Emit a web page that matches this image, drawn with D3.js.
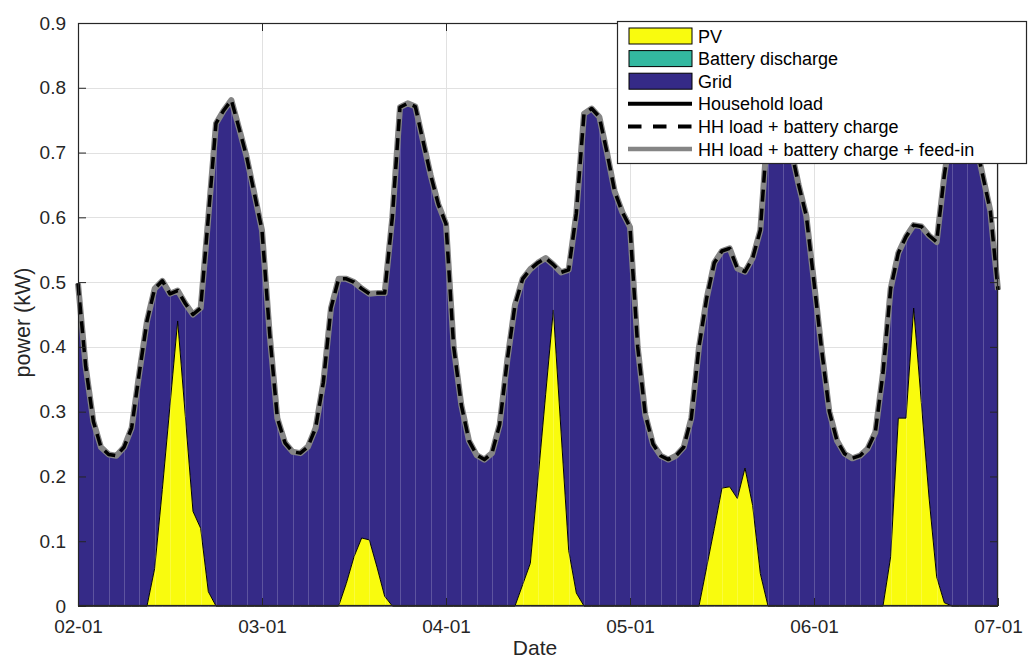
<!DOCTYPE html>
<html>
<head>
<meta charset="utf-8">
<script src="https://cdn.jsdelivr.net/npm/d3@7"></script>
<style>
  html, body { margin: 0; padding: 0; background: #fff; }
  svg { display: block; font-family: "Liberation Sans", Arial, Helvetica, sans-serif; }
</style>
</head>
<body>
<svg id="chart" width="1028" height="661"></svg>
<script>
// Hourly time index over five days (hour 0 = 02-01 00:00, hour 120 = 07-01 00:00)
const hours = d3.range(0, 121);

// Household load (kW), one row per day
const householdLoad = [
  // 02-01
  0.498, 0.370, 0.285, 0.245, 0.234, 0.232, 0.245, 0.275, 0.360, 0.440, 0.490, 0.502,
  0.482, 0.487, 0.467, 0.450, 0.460, 0.600, 0.745, 0.765, 0.781, 0.738, 0.693, 0.637,
  // 03-01
  0.580, 0.420, 0.290, 0.252, 0.238, 0.236, 0.246, 0.275, 0.345, 0.460, 0.505, 0.505,
  0.500, 0.490, 0.482, 0.483, 0.483, 0.600, 0.770, 0.776, 0.771, 0.718, 0.665, 0.620,
  // 04-01
  0.590, 0.400, 0.310, 0.255, 0.233, 0.226, 0.236, 0.280, 0.380, 0.465, 0.505, 0.520,
  0.530, 0.537, 0.527, 0.515, 0.519, 0.606, 0.760, 0.768, 0.755, 0.700, 0.640, 0.608,
  // 05-01
  0.585, 0.400, 0.295, 0.250, 0.232, 0.226, 0.232, 0.245, 0.290, 0.400, 0.475, 0.530,
  0.548, 0.552, 0.521, 0.516, 0.537, 0.580, 0.745, 0.780, 0.770, 0.705, 0.650, 0.602,
  // 06-01
  0.500, 0.395, 0.300, 0.255, 0.235, 0.228, 0.232, 0.243, 0.268, 0.360, 0.490, 0.545,
  0.570, 0.588, 0.586, 0.572, 0.562, 0.665, 0.745, 0.775, 0.765, 0.720, 0.665, 0.610,
  // 07-01 00:00
  0.488
];

// PV generation (kW)
const pvGeneration = [
  0, 0, 0, 0, 0, 0, 0, 0, 0, 0, 0.058, 0.180,
  0.310, 0.440, 0.293, 0.146, 0.120, 0.022, 0, 0, 0, 0, 0, 0,
  0, 0, 0, 0, 0, 0, 0, 0, 0, 0, 0, 0.035,
  0.076, 0.105, 0.102, 0.060, 0.015, 0, 0, 0, 0, 0, 0, 0,
  0, 0, 0, 0, 0, 0, 0, 0, 0, 0, 0.033, 0.066,
  0.196, 0.327, 0.457, 0.270, 0.086, 0.020, 0, 0, 0, 0, 0, 0,
  0, 0, 0, 0, 0, 0, 0, 0, 0, 0, 0.060, 0.120,
  0.182, 0.184, 0.166, 0.213, 0.155, 0.050, 0, 0, 0, 0, 0, 0,
  0, 0, 0, 0, 0, 0, 0, 0, 0, 0, 0.076, 0.290,
  0.290, 0.460, 0.314, 0.168, 0.045, 0.005, 0, 0, 0, 0, 0, 0,
  0
];

// Battery discharge, battery charge and feed-in (kW): all zero in this period
const batteryDischarge = [
  0,0,0,0,0,0,0,0,0,0,0,0, 0,0,0,0,0,0,0,0,0,0,0,0,
  0,0,0,0,0,0,0,0,0,0,0,0, 0,0,0,0,0,0,0,0,0,0,0,0,
  0,0,0,0,0,0,0,0,0,0,0,0, 0,0,0,0,0,0,0,0,0,0,0,0,
  0,0,0,0,0,0,0,0,0,0,0,0, 0,0,0,0,0,0,0,0,0,0,0,0,
  0,0,0,0,0,0,0,0,0,0,0,0, 0,0,0,0,0,0,0,0,0,0,0,0,
  0
];
const batteryCharge = [
  0,0,0,0,0,0,0,0,0,0,0,0, 0,0,0,0,0,0,0,0,0,0,0,0,
  0,0,0,0,0,0,0,0,0,0,0,0, 0,0,0,0,0,0,0,0,0,0,0,0,
  0,0,0,0,0,0,0,0,0,0,0,0, 0,0,0,0,0,0,0,0,0,0,0,0,
  0,0,0,0,0,0,0,0,0,0,0,0, 0,0,0,0,0,0,0,0,0,0,0,0,
  0,0,0,0,0,0,0,0,0,0,0,0, 0,0,0,0,0,0,0,0,0,0,0,0,
  0
];
const feedIn = [
  0,0,0,0,0,0,0,0,0,0,0,0, 0,0,0,0,0,0,0,0,0,0,0,0,
  0,0,0,0,0,0,0,0,0,0,0,0, 0,0,0,0,0,0,0,0,0,0,0,0,
  0,0,0,0,0,0,0,0,0,0,0,0, 0,0,0,0,0,0,0,0,0,0,0,0,
  0,0,0,0,0,0,0,0,0,0,0,0, 0,0,0,0,0,0,0,0,0,0,0,0,
  0,0,0,0,0,0,0,0,0,0,0,0, 0,0,0,0,0,0,0,0,0,0,0,0,
  0
];

// Axis ticks
const dayTicks = [0, 24, 48, 72, 96, 120];
const dayLabels = ["02-01", "03-01", "04-01", "05-01", "06-01", "07-01"];
const powerTicks = [0, 0.1, 0.2, 0.3, 0.4, 0.5, 0.6, 0.7, 0.8, 0.9];
const powerLabels = ["0", "0.1", "0.2", "0.3", "0.4", "0.5", "0.6", "0.7", "0.8", "0.9"];

// Legend entries
const areaKeys = ["pv", "batteryDischarge", "grid"];
const areaNames = ["PV", "Battery discharge", "Grid"];
const areaColors = ["#f9fb0e", "#33b8a0", "#352a87"];
const lineNames = ["Household load", "HH load + battery charge", "HH load + battery charge + feed-in"];

// ---------------------------------------------------------------
const svg = d3.select("#chart");
const plot = { left: 78, right: 998, top: 23, bottom: 606 };

const x = d3.scaleLinear().domain([0, 120]).range([plot.left, plot.right]);
const y = d3.scaleLinear().domain([0, 0.9]).range([plot.bottom, plot.top]);

const rows = hours.map((h, i) => ({
  hour: h,
  pv: pvGeneration[i],
  batteryDischarge: batteryDischarge[i],
  grid: householdLoad[i] - pvGeneration[i] - batteryDischarge[i],
  load: householdLoad[i],
  loadCharge: householdLoad[i] + batteryCharge[i],
  loadChargeFeed: householdLoad[i] + batteryCharge[i] + feedIn[i]
}));

// Grid lines
const gridG = svg.append("g").attr("stroke", "#e1e1e1").attr("stroke-width", 1);
gridG.selectAll("line.gy").data(powerTicks).join("line")
  .attr("x1", plot.left).attr("x2", plot.right)
  .attr("y1", d => Math.round(y(d)) + 0.5).attr("y2", d => Math.round(y(d)) + 0.5);
gridG.selectAll("line.gx").data(dayTicks).join("line")
  .attr("y1", plot.top).attr("y2", plot.bottom)
  .attr("x1", d => Math.round(x(d)) + 0.5).attr("x2", d => Math.round(x(d)) + 0.5);

// Stacked supply areas
const stacked = d3.stack().keys(areaKeys)(rows);
const area = d3.area()
  .x(d => x(d.data.hour))
  .y0(d => y(d[0]))
  .y1(d => y(d[1]));

const areaG = svg.append("g");
// draw grid first, then battery, then PV so the PV edge sits on top
[2, 1, 0].forEach(k => {
  areaG.append("path")
    .datum(stacked[k])
    .attr("fill", areaColors[k])
    .attr("stroke", k === 0 ? "#000" : "none")
    .attr("stroke-width", 1)
    .attr("stroke-linejoin", "round")
    .attr("d", area);
});

// Faint vertical seams inside the filled region
svg.append("g")
  .attr("stroke", "rgba(255,255,255,0.2)")
  .attr("stroke-width", 1)
  .selectAll("line")
  .data(rows.filter(d => d.hour % 2 === 0 && d.hour > 0 && d.hour < 120))
  .join("line")
  .attr("x1", d => Math.round(x(d.hour)) + 0.5)
  .attr("x2", d => Math.round(x(d.hour)) + 0.5)
  .attr("y1", y(0))
  .attr("y2", d => y(d.load) + 3);

// Demand lines
const line = key => d3.line().x(d => x(d.hour)).y(d => y(d[key]));
svg.append("path").datum(rows)
  .attr("fill", "none").attr("stroke", "#000").attr("stroke-width", 3.5)
  .attr("stroke-linejoin", "round").attr("d", line("load"));
svg.append("path").datum(rows)
  .attr("fill", "none").attr("stroke", "#858585").attr("stroke-width", 6)
  .attr("stroke-linejoin", "round").attr("d", line("loadChargeFeed"));
svg.append("path").datum(rows)
  .attr("fill", "none").attr("stroke", "#000").attr("stroke-width", 3.5)
  .attr("stroke-dasharray", "12,7")
  .attr("stroke-linejoin", "round").attr("d", line("loadCharge"));

// Axes (ticks inside, box on)
const tickColor = "#262626";
const fontTick = "19px";

const xAxis = d3.axisBottom(x).tickValues(dayTicks)
  .tickFormat((d, i) => dayLabels[i]).tickSize(-8).tickPadding(14);
const gx = svg.append("g").attr("transform", `translate(0,${plot.bottom})`).call(xAxis);

const yAxis = d3.axisLeft(y).tickValues(powerTicks)
  .tickFormat((d, i) => powerLabels[i]).tickSize(-8).tickPadding(12);
const gy = svg.append("g").attr("transform", `translate(${plot.left},0)`).call(yAxis);

const gxTop = svg.append("g").attr("transform", `translate(0,${plot.top})`)
  .call(d3.axisTop(x).tickValues(dayTicks).tickFormat("").tickSize(-8));
const gyRight = svg.append("g").attr("transform", `translate(${plot.right},0)`)
  .call(d3.axisRight(y).tickValues(powerTicks).tickFormat("").tickSize(-8));

[gx, gy, gxTop, gyRight].forEach(g => {
  g.select(".domain").remove();
  g.selectAll(".tick line").attr("stroke", tickColor).attr("stroke-width", 1);
  g.selectAll("text").attr("fill", tickColor).style("font-size", fontTick)
    .style("font-family", '"Liberation Sans", Arial, sans-serif');
});

svg.append("rect")
  .attr("x", plot.left + 0.5).attr("y", plot.top + 0.5)
  .attr("width", plot.right - plot.left - 1).attr("height", plot.bottom - plot.top - 1)
  .attr("fill", "none").attr("stroke", tickColor).attr("stroke-width", 1.2);

// Axis titles
svg.append("text")
  .attr("x", (plot.left + plot.right) / 2 - 3).attr("y", 655)
  .attr("text-anchor", "middle").attr("fill", tickColor)
  .style("font-size", "21px").text("Date");
svg.append("text")
  .attr("transform", `translate(30,${(plot.top + plot.bottom) / 2 + 8}) rotate(-90)`)
  .attr("text-anchor", "middle").attr("fill", tickColor)
  .style("font-size", "21.5px").text("power (kW)");

// Legend
const lg = svg.append("g");
const lgBox = { x: 617.5, y: 21.5, w: 409, h: 142 };
lg.append("rect")
  .attr("x", lgBox.x).attr("y", lgBox.y).attr("width", lgBox.w).attr("height", lgBox.h)
  .attr("fill", "#fff").attr("stroke", tickColor).attr("stroke-width", 1.2);

const rowY = i => 36 + i * 22.6;
const sampleX0 = 629, sampleX1 = 692, textX = 698;

areaNames.forEach((name, i) => {
  lg.append("rect")
    .attr("x", sampleX0).attr("y", rowY(i) - 8).attr("width", sampleX1 - sampleX0).attr("height", 16)
    .attr("fill", areaColors[i]).attr("stroke", "#000").attr("stroke-width", 1);
  lg.append("text").attr("x", textX).attr("y", rowY(i) + 6.5)
    .attr("fill", "#000").style("font-size", "18px").text(name);
});

const lineStyles = [
  { stroke: "#000", width: 4, dash: null },
  { stroke: "#000", width: 4, dash: "13.5,11.5" },
  { stroke: "#858585", width: 4.5, dash: null }
];
lineNames.forEach((name, j) => {
  const i = j + 3;
  lg.append("line")
    .attr("x1", sampleX0 - 1).attr("x2", sampleX1)
    .attr("y1", rowY(i)).attr("y2", rowY(i))
    .attr("stroke", lineStyles[j].stroke).attr("stroke-width", lineStyles[j].width)
    .attr("stroke-dasharray", lineStyles[j].dash);
  lg.append("text").attr("x", textX).attr("y", rowY(i) + 6.5)
    .attr("fill", "#000").style("font-size", "18px").text(name);
});
</script>
</body>
</html>
